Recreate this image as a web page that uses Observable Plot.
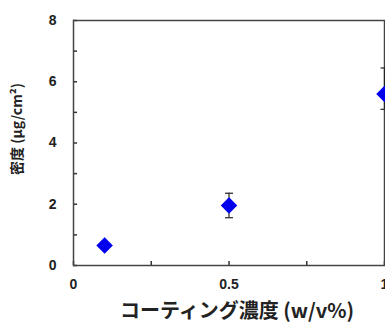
<!DOCTYPE html>
<html>
<head>
<meta charset="utf-8">
<script src="https://cdn.jsdelivr.net/npm/d3@7"></script>
<script src="https://cdn.jsdelivr.net/npm/@observablehq/plot@0.6"></script>
<style>
body{margin:0;background:#fff;}
</style>
</head>
<body>
<div id="chart"></div>
<script>
const concentration = [0.1, 0.5, 1.0];
const density = [0.65, 1.96, 5.6];
const errLow = [0.0, 0.4, 0.5];
const errHigh = [0.0, 0.4, 0.85];
const xTicks = [0, 0.25, 0.5, 0.75, 1];
const xTickLabels = ["0", "", "0.5", "", "1"];
const yTicks = [0, 1, 2, 3, 4, 5, 6, 7, 8];
const yTickLabels = ["0", "", "2", "", "4", "", "6", "", "8"];
const xLabel = "コーティング濃度 (w/v%)";
const yLabel = "密度 (μg/cm²)";

const data = concentration.map((c, i) => ({
  x: c, y: density[i], lo: density[i] - errLow[i], hi: density[i] + errHigh[i], err: errLow[i] + errHigh[i]
}));
const bars = data.filter(d => d.err > 0);
const cap = {draw(ctx, size){ const h = Math.sqrt(size / Math.PI); ctx.moveTo(-h, 0); ctx.lineTo(h, 0); }};

const plot = Plot.plot({
  width: 385,
  height: 329,
  marginLeft: 73,
  marginRight: 1,
  marginTop: 20,
  marginBottom: 64,
  style: {fontFamily: "'Liberation Sans', Arial, sans-serif", background: "#fff", overflow: "visible"},
  x: {domain: [0, 1]},
  y: {domain: [0, 8]},
  marks: [
    Plot.axisX({ticks: xTicks, tickSize: -4, tickFormat: (d, i) => xTickLabels[i], fontSize: 14, fontWeight: "bold", fill: "#222", stroke: "#333", strokeWidth: 1.5, tickPadding: 18, label: null}),
    Plot.axisY({ticks: yTicks, tickSize: -4, tickFormat: (d, i) => yTickLabels[i], fontSize: 14, fontWeight: "bold", fill: "#222", stroke: "#333", strokeWidth: 1.5, tickPadding: 21, label: null}),
    Plot.text([yLabel], {frameAnchor: "left", textAnchor: "middle", dx: -56, dy: -14, rotate: -90, fontSize: 14, fontWeight: "bold", fill: "#222", fontFamily: "'Noto Sans CJK JP', sans-serif"}),
    Plot.text([xLabel], {frameAnchor: "bottom", dy: 52, dx: 8, fontSize: 20, fontWeight: "bold", fill: "#222", fontFamily: "'Noto Sans CJK JP', sans-serif"}),
    Plot.frame({stroke: "#444", strokeWidth: 1.5}),
    Plot.ruleX(bars, {x: "x", y1: "lo", y2: "hi", stroke: "#222", strokeWidth: 1.2}),
    Plot.dot(bars, {x: "x", y: "hi", symbol: cap, r: 4, stroke: "#222", strokeWidth: 1.2}),
    Plot.dot(bars, {x: "x", y: "lo", symbol: cap, r: 4, stroke: "#222", strokeWidth: 1.2}),
    Plot.dot(data, {x: "x", y: "y", symbol: "diamond2", r: 6.5, fill: "#0000ee", stroke: "#0000ee"})
  ]
});
document.getElementById("chart").append(plot);
</script>
</body>
</html>
